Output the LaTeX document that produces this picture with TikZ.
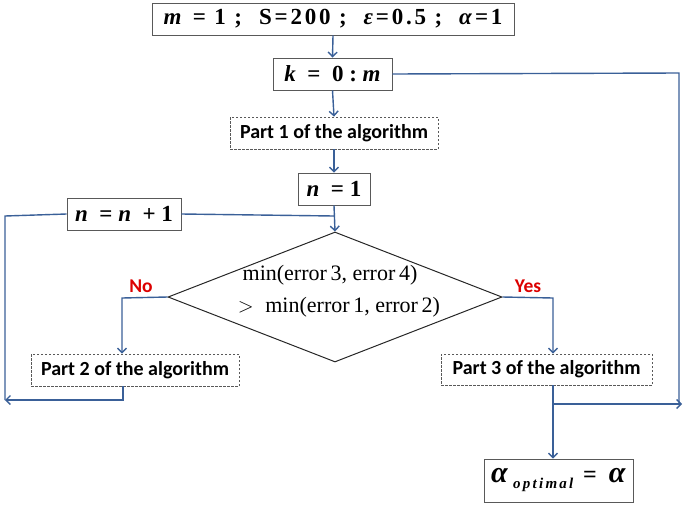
\documentclass[tikz,border=0pt]{standalone}
\usepackage{fontspec}
\setmainfont{Liberation Serif}
\newfontfamily\partfont{Carlito}
\usetikzlibrary{shapes.geometric,arrows.meta}
\definecolor{conn}{RGB}{58,96,152}
\definecolor{nored}{RGB}{220,0,0}
\tikzset{
  solidbox/.style={draw=black!65,line width=0.9pt,rectangle,inner sep=0pt,font=\fontsize{23}{25}\selectfont\bfseries},
  dashbox/.style={draw=black!65,dashed,dash pattern=on 2.5pt off 1.5pt,line width=0.8pt,rectangle,inner sep=0pt,font=\partfont\fontsize{20}{22}\selectfont\bfseries},
  conline/.style={draw=conn,line width=1.4pt},
  conarrow/.style={conline,-{Straight Barb[length=4.5pt,width=9pt]}},
  lbl/.style={text=nored,font=\partfont\fontsize{19.5}{22}\selectfont\bfseries,inner sep=0pt},
  dtext/.style={font=\fontsize{22}{24}\selectfont,inner sep=0pt}
}
\begin{document}
\begin{tikzpicture}[x=1pt,y=-1pt]
\useasboundingbox (0,0) rectangle (685,504);
% nodes
\node[solidbox,minimum width=362pt,minimum height=32pt] (top) at (333,19)
  {\addfontfeature{LetterSpace=12}\textit{m}~=~1~; ~S=200~; ~\textit{ε}=0.5~; ~\textit{α}=1};
\node[solidbox,minimum width=119pt,minimum height=32pt] (k) at (332.5,74)
  {\textit{k}~~=~~0~:~\textit{m}};
\node[dashbox,minimum width=208pt,minimum height=32pt] (p1) at (334,133)
  {Part 1 of the algorithm};
\node[solidbox,minimum width=72pt,minimum height=32pt] (n1) at (334,189)
  {\textit{n} ~=~1};
\node[solidbox,minimum width=114pt,minimum height=32pt] (nn) at (124,214)
  {\textit{n} ~=~\textit{n} ~+~1};
\node[draw=black!85,line width=1pt,diamond,minimum width=334pt,minimum height=130pt,inner sep=0pt,aspect=2.57] (d) at (335,297) {};
\node[dtext] at (330,275) {min(error\,3, error\,4)};
\node[dtext] at (339,307) {$>$\; min(error\,1, error\,2)};
\node[dashbox,minimum width=208pt,minimum height=32pt] (p2) at (135,370)
  {Part 2 of the algorithm};
\node[dashbox,minimum width=211pt,minimum height=31pt] (p3) at (546.5,369.5)
  {Part 3 of the algorithm};
\node[solidbox,minimum width=149pt,minimum height=43pt] (al) at (558.5,480.5)
  {\fontsize{30}{32}\selectfont\textit{α}\,\raisebox{-6pt}{\fontsize{15}{16}\selectfont\addfontfeature{LetterSpace=15}\textit{optimal}}~\fontsize{24}{26}\selectfont = ~\fontsize{30}{32}\selectfont\textit{α}};
\node[lbl] at (141,286) {No};
\node[lbl] at (528,286) {Yes};
% coordinates
\coordinate (kr) at (679,73);
\coordinate (kd) at (679,404);
\coordinate (j3) at (553,404);
\coordinate (jr) at (682,404);
\coordinate (nj) at (334,216);
\coordinate (ll) at (5,216);
\coordinate (lb) at (5,400);
\coordinate (p2b) at (123,400);
\coordinate (nl) at (122,298);
\coordinate (yr) at (553,298);
% connectors
\draw[conarrow] (top.south) -- (k.north);
\draw[conarrow] (k.south) -- (p1.north);
\draw[conarrow] (p1.south) -- (n1.north);
\draw[conarrow] (n1.south) -- (d.north);
\draw[conline] (nj) -- (nn.east);
\draw[conline] (nn.west) -- (ll) -- (lb);
\draw[conline] (k.east) -- (kr) -- (kd);
\draw[conarrow] (d.west) -- (nl) -- (p2.north -| nl);
\draw[conarrow] (d.east) -- (yr) -- (p3.north -| yr);
\draw[conarrow] (p2.south -| p2b) -- (p2b) -- (lb);
\draw[conarrow] (p3.south -| j3) -- (al.north -| j3);
\draw[conarrow] (j3) -- (jr);
\end{tikzpicture}
\end{document}
